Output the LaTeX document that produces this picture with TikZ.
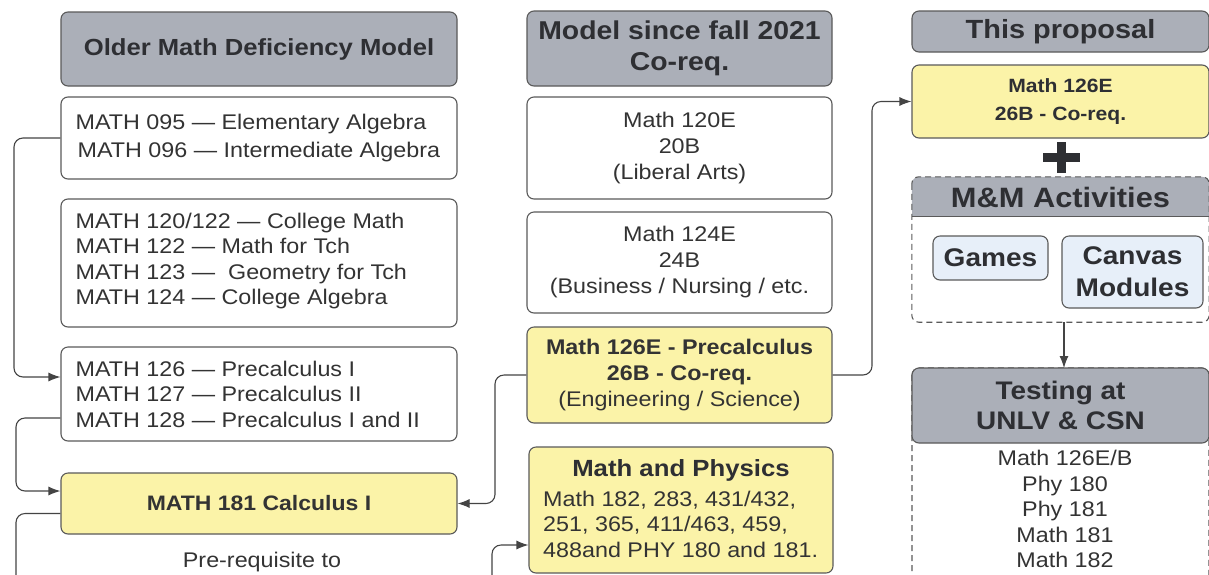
\documentclass[tikz,border=0pt]{standalone}
\usepackage{fontspec}
\setmainfont{Liberation Sans}[FakeStretch=1.1]
\usetikzlibrary{arrows.meta}
\definecolor{hdrfill}{HTML}{ABAFB8}
\definecolor{yel}{HTML}{FBF3A8}
\definecolor{lblue}{HTML}{E7EFF9}
\definecolor{bordc}{HTML}{5A5A5A}
\definecolor{linec}{HTML}{444444}
\definecolor{txt}{HTML}{333333}
\definecolor{htxt}{HTML}{2E2F33}
\newcommand\fsz[2]{\fontsize{#1}{#2}\selectfont}
\begin{document}
\begin{tikzpicture}[x=1pt,y=-1pt,
  base/.style={draw=bordc, line width=1.1pt, rounded corners=7pt, text=txt, inner sep=0pt},
  hdr/.style={base, fill=hdrfill, text=htxt, align=center},
  wbox/.style={base, fill=white},
  ybox/.style={base, fill=yel},
  bbox/.style={base, fill=lblue, text=htxt, align=center, font=\bfseries\fsz{25.5}{32}},
  dbox/.style={draw=bordc, line width=1.1pt, dashed, dash pattern=on 6pt off 4pt, rounded corners=7pt},
  lbl/.style={text=txt, font=\fsz{21.2}{25.5}, inner sep=0pt},
  lefttxt/.style={lbl, anchor=west, align=left},
  conn/.style={draw=linec, line width=1.1pt, rounded corners=9pt, -{Latex[length=12pt,width=9pt]}}
]
\useasboundingbox (0,0) rectangle (1209,574);
\clip (0,0) rectangle (1209,574);
\fill[white] (0,0) rectangle (1209,574);

% ---------- left column ----------
\node[hdr, minimum width=396pt, minimum height=74pt, font=\bfseries\fsz{23.3}{28}] (lhead) at (259,49) {Older Math Deficiency Model};
\node[wbox, minimum width=396pt, minimum height=82pt] (b1) at (259,138) {};
\node[lefttxt, font=\fsz{21.2}{27.5}] (b1t) at ([xshift=15pt]b1.west)
  {MATH 095 — Elementary Algebra\\\hspace*{2pt}MATH 096 — Intermediate Algebra};
\node[wbox, minimum width=396pt, minimum height=128pt] (b2) at (259,263) {};
\node[lefttxt] (b2t) at ([xshift=15pt,yshift=2pt]b2.west)
  {MATH 120/122 — College Math\\MATH 122 — Math for Tch\\MATH 123 — \ Geometry for Tch\\MATH 124 — College Algebra};
\node[wbox, minimum width=396pt, minimum height=94pt] (b3) at (259,394) {};
\node[lefttxt] (b3t) at ([xshift=15pt]b3.west)
  {MATH 126 — Precalculus I\\MATH 127 — Precalculus II\\MATH 128 — Precalculus I and II};
\node[ybox, minimum width=396pt, minimum height=61pt, font=\bfseries\fsz{20.9}{25.5}] (calc) at (259,503.5) {MATH 181 Calculus I};
\node[lbl] (pre) at (262,562) {Pre-requisite to};

% ---------- middle column ----------
\node[hdr, minimum width=305pt, minimum height=75pt, font=\bfseries\fsz{25.8}{31}] (mhead) at (679.5,48.5) {Model since fall 2021\\Co-req.};
\node[wbox, minimum width=305pt, minimum height=102pt, align=center, font=\fsz{21.2}{26}] (m120) at (679.5,148) {Math 120E\\20B\\(Liberal Arts)};
\node[wbox, minimum width=305pt, minimum height=101pt, align=center, font=\fsz{21.2}{26}] (m124) at (679.5,262.5) {Math 124E\\24B\\(Business / Nursing / etc.};
\node[ybox, minimum width=305pt, minimum height=96pt, align=center, font=\fsz{21.2}{26}] (m126) at (679.5,375)
  {{\bfseries Math 126E - Precalculus}\\{\bfseries 26B - Co-req.}\\(Engineering / Science)};
\node[ybox, minimum width=304pt, minimum height=126pt] (mp) at (681,510) {};
\node[lbl, font=\bfseries\fsz{23.4}{28}, text=htxt] (mpt) at (681,470) {Math and Physics};
\node[lbl, anchor=west, align=left] (mpl) at (543,524) {Math 182, 283, 431/432,\\251, 365, 411/463, 459,\\488and PHY 180 and 181.};

% ---------- right column ----------
\node[hdr, minimum width=297pt, minimum height=41pt, font=\bfseries\fsz{26.3}{31}] (rhead) at (1060.5,31.5) {This proposal};
\node[ybox, minimum width=297pt, minimum height=73pt, align=center, text=htxt, font=\bfseries\fsz{19.2}{28}] (prop) at (1060.5,101.5) {Math 126E\\26B - Co-req.};
\coordinate (plus) at (1061.5,157.5);
\draw[htxt, line width=8.5pt] ([xshift=-18.5pt]plus) -- ([xshift=18.5pt]plus);
\draw[htxt, line width=8.5pt] ([yshift=15.5pt]plus) -- ([yshift=-15.5pt]plus);

% M&M container
\node[minimum width=297pt, minimum height=145pt, inner sep=0pt] (mm) at (1060.5,249.5) {};
\fill[hdrfill, rounded corners=7pt] (mm.north west) rectangle ([yshift=-40pt]mm.north east);
\fill[hdrfill] ([yshift=-20pt]mm.north west) rectangle ([yshift=-40pt]mm.north east);
\draw[bordc, line width=1.1pt] ([yshift=-40pt]mm.north west) -- ([yshift=-40pt]mm.north east);
\draw[dbox] (mm.north west) rectangle (mm.south east);
\node[lbl, font=\bfseries\fsz{28}{32}, text=htxt] (mmt) at (1060.5,197) {M\&M Activities};
\node[bbox, minimum width=115pt, minimum height=44pt] (games) at (990.5,258) {Games};
\node[bbox, minimum width=141pt, minimum height=72pt] (canvas) at (1132.5,272) {Canvas\\Modules};

% Testing container
\coordinate (tnw) at (912,368);
\coordinate (tse) at (1209,620);
\draw[dbox] (tnw) rectangle (tse);
\node[hdr, minimum width=297pt, minimum height=75pt, font=\bfseries\fsz{25.4}{30}] (thead) at (1060.5,405.5) {Testing at\\UNLV \& CSN};
\node[lbl, align=center, font=\fsz{21.2}{25.5}] (tlist) at (1065,509) {Math 126E/B\\Phy 180\\Phy 181\\Math 181\\Math 182};

% ---------- connectors ----------
\draw[conn] (b1.west) -| (14,377) -- ([yshift=17pt]b3.west);
\draw[conn] ([yshift=-24pt]b3.west) -| (16,491) -- ([yshift=12.5pt]calc.west);
\draw[conn] ([yshift=-10pt]calc.west) -| (16,590) -| (492,545) -- ([yshift=-35pt]mp.west);
\draw[conn] (m126.west) -| (495,503.5) -- (calc.east);
\draw[conn] (m126.east) -| (872,101.5) -- (prop.west);
\draw[conn] (1064,322) -- (1064,368);
\end{tikzpicture}
\end{document}
